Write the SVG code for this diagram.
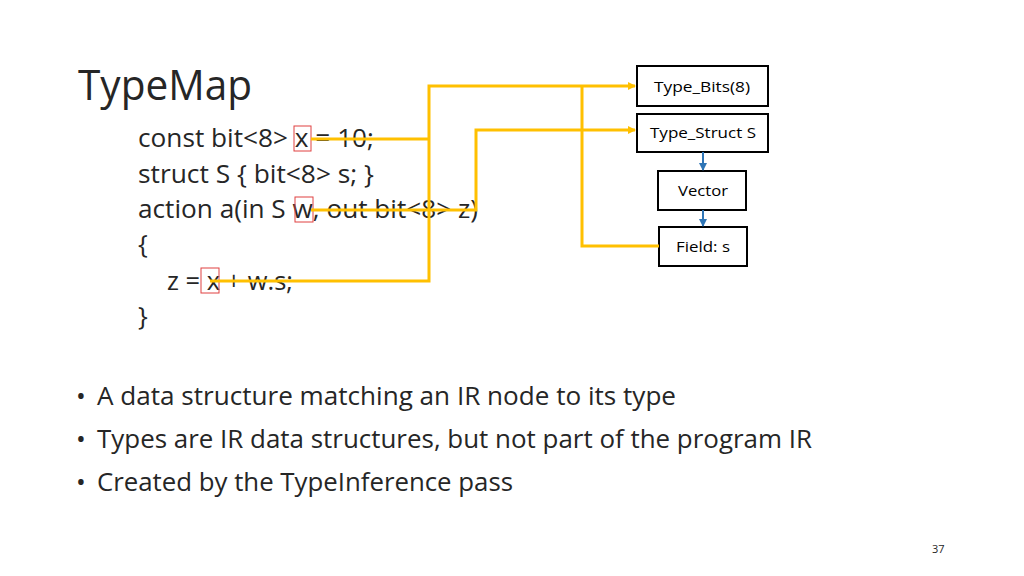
<svg xmlns="http://www.w3.org/2000/svg" width="1024" height="576" viewBox="0 0 1024 576">
<defs>
<style>
text{font-family:"Open Sans","Liberation Sans",sans-serif;fill:#262626}
.code{font-size:26px}
.box rect{fill:#fff;stroke:#000;stroke-width:2}
.box text{font-size:15px;fill:#000}
.y{fill:none;stroke:#FFC000;stroke-width:3}
.b{stroke:#2E75B6;stroke-width:2;marker-end:url(#ab)}
.r{fill:none;stroke:#E04040;stroke-width:1}
</style>
<marker id="ay" markerWidth="8" markerHeight="8" refX="7" refY="4" orient="auto" markerUnits="userSpaceOnUse"><path d="M0,0L8,4L0,8Z" fill="#FFC000"/></marker>
<marker id="ab" markerWidth="8" markerHeight="8" refX="7" refY="4" orient="auto" markerUnits="userSpaceOnUse"><path d="M0,0L8,4L0,8Z" fill="#2E75B6"/></marker>
</defs>
<rect width="1024" height="576" fill="#fff"/>
<text x="78" y="100" font-size="42" textLength="174" lengthAdjust="spacingAndGlyphs">TypeMap</text>
<g class="code">
<text x="138" y="147" textLength="236" lengthAdjust="spacingAndGlyphs">const bit&lt;8&gt; x = 10;</text>
<text x="138" y="183" textLength="236" lengthAdjust="spacingAndGlyphs">struct S { bit&lt;8&gt; s; }</text>
<text x="138" y="218" textLength="340" lengthAdjust="spacingAndGlyphs">action a(in S w, out bit&lt;8&gt; z)</text>
<text x="138" y="253">{</text>
<text x="167" y="290" textLength="126" lengthAdjust="spacingAndGlyphs">z = x + w.s;</text>
<text x="138" y="325">}</text>
</g>
<rect class="r" x="294" y="126" width="17" height="25"/>
<rect class="r" x="295" y="197" width="18" height="25"/>
<rect class="r" x="201" y="268" width="18" height="25"/>
<g id="n1" class="box"><rect x="637" y="66" width="131" height="40"/><text x="654" y="92" textLength="96" lengthAdjust="spacingAndGlyphs">Type_Bits(8)</text></g>
<g id="n2" class="box"><rect x="637" y="114" width="131" height="38"/><text x="650" y="138" textLength="106" lengthAdjust="spacingAndGlyphs">Type_Struct S</text></g>
<g id="n3" class="box"><rect x="658" y="171" width="88" height="39"/><text x="678" y="196" textLength="50" lengthAdjust="spacingAndGlyphs">Vector</text></g>
<g id="n4" class="box"><rect x="659" y="227" width="88" height="39"/><text x="676" y="252" textLength="54" lengthAdjust="spacingAndGlyphs">Field: s</text></g>
<g id="connectors">
<polyline class="y" points="311,139 429,139"/>
<polyline class="y" points="210,281 429,281 429,86 635,86" marker-end="url(#ay)"/>
<polyline class="y" points="659,246 582,246 582,86"/>
<polyline class="y" points="311,210 476,210 476,130 635,130" marker-end="url(#ay)"/>
<line class="b" x1="703" y1="152" x2="703" y2="170"/>
<line class="b" x1="703" y1="210" x2="703" y2="226"/>
</g>
<g font-size="26">
<text x="76" y="405">•</text><text x="97" y="405" textLength="579" lengthAdjust="spacingAndGlyphs">A data structure matching an IR node to its type</text>
<text x="76" y="448">•</text><text x="97" y="448" textLength="715" lengthAdjust="spacingAndGlyphs">Types are IR data structures, but not part of the program IR</text>
<text x="76" y="491">•</text><text x="97" y="491" textLength="416" lengthAdjust="spacingAndGlyphs">Created by the TypeInference pass</text>
</g>
<text x="932" y="553" font-size="11" fill="#888">37</text>
</svg>
